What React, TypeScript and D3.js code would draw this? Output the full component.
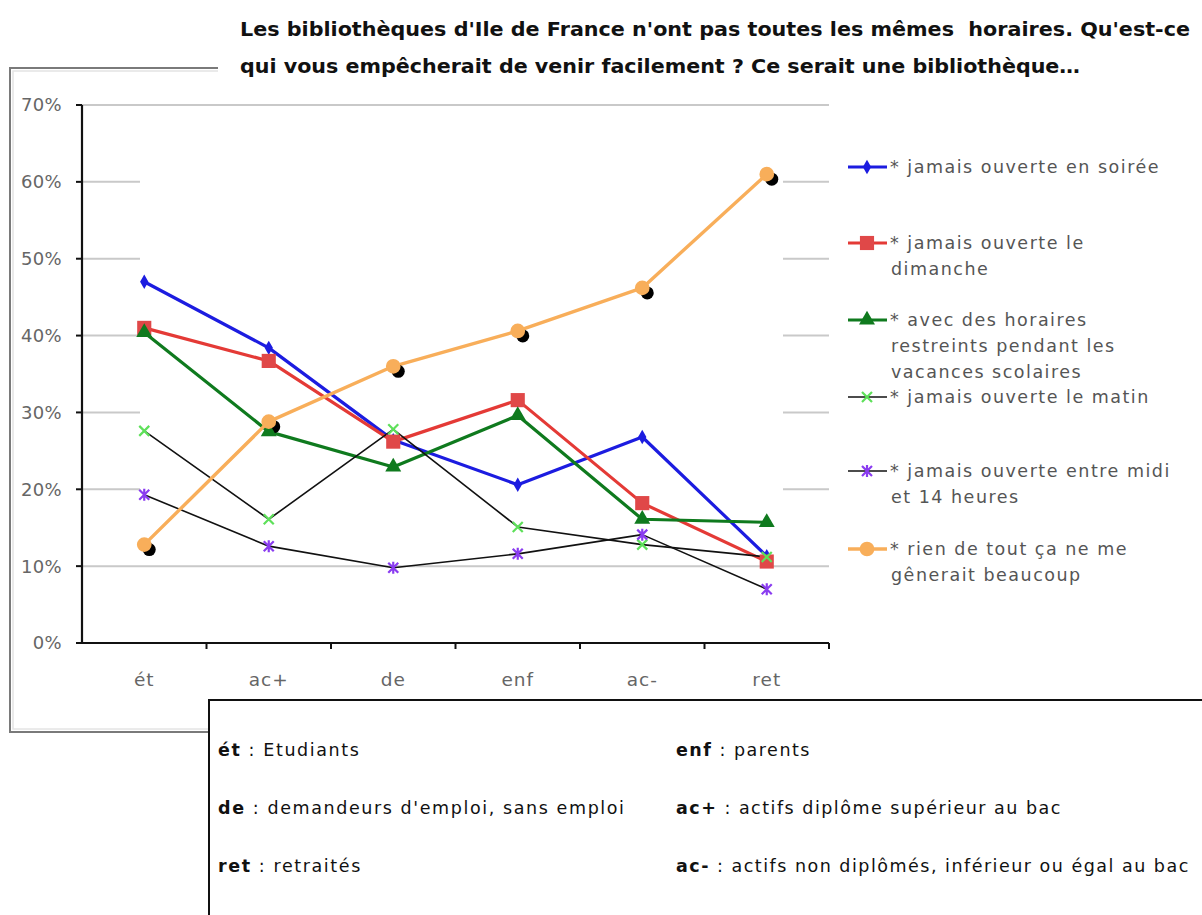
import React, { useEffect } from "react";
import * as d3 from "d3";

const categories = ["ét", "ac+", "de", "enf", "ac-", "ret"];
const soiree = [47.0, 38.4, 26.4, 20.6, 26.8, 11.3];
const dimanche = [41.0, 36.7, 26.2, 31.6, 18.2, 10.6];
const vacances = [40.4, 27.5, 22.9, 29.6, 16.1, 15.7];
const matin = [27.6, 16.1, 27.8, 15.1, 12.8, 11.2];
const midi = [19.3, 12.6, 9.8, 11.6, 14.1, 7.0];
const rien = [12.8, 28.8, 36.0, 40.6, 46.2, 61.0];
const yTicks = [0, 10, 20, 30, 40, 50, 60, 70];

const titleLines = [
  "Les bibliothèques d'Ile de France n'ont pas toutes les mêmes  horaires. Qu'est-ce",
  "qui vous empêcherait de venir facilement ? Ce serait une bibliothèque…",
];

type Series = {
  name: string[];
  values: number[];
  line: string;
  lineWidth: number;
  marker: string;
  markerColor: string;
};

const series: Series[] = [
  { name: ["* jamais ouverte en soirée"], values: soiree, line: "#1c1ce0", lineWidth: 3.2, marker: "diamond", markerColor: "#1c1ce0" },
  { name: ["* jamais ouverte le", "dimanche"], values: dimanche, line: "#e43a36", lineWidth: 3.2, marker: "square", markerColor: "#e04848" },
  { name: ["* avec des horaires", "restreints pendant les", "vacances scolaires"], values: vacances, line: "#0f7a1e", lineWidth: 3.2, marker: "triangle", markerColor: "#0f7a1e" },
  { name: ["* jamais ouverte le matin"], values: matin, line: "#111111", lineWidth: 1.6, marker: "x", markerColor: "#5ee05a" },
  { name: ["* jamais ouverte entre midi", "et 14 heures"], values: midi, line: "#111111", lineWidth: 1.6, marker: "star", markerColor: "#8a3cf0" },
  { name: ["* rien de tout ça ne me", "gênerait beaucoup"], values: rien, line: "#f8ae5a", lineWidth: 3.4, marker: "circle", markerColor: "#f8ae5a" },
];

const legendY = [167, 243, 320, 397, 471, 549];

const glossaryLeft = [
  ["ét", " : Etudiants"],
  ["de", " : demandeurs d'emploi, sans emploi"],
  ["ret", " : retraités"],
];
const glossaryRight = [
  ["enf", " : parents"],
  ["ac+", " : actifs diplôme supérieur au bac"],
  ["ac-", " : actifs non diplômés, inférieur ou égal au bac"],
];

const FONT = "'DejaVu Sans', sans-serif";

function Marker({ kind, color, x, y }: { kind: string; color: string; x: number; y: number }) {
  if (kind === "diamond") {
    return <path d={d3.symbol().type(d3.symbolDiamond).size(60)()!} transform={`translate(${x},${y})`} fill={color} />;
  }
  if (kind === "square") {
    return <path d={d3.symbol().type(d3.symbolSquare).size(200)()!} transform={`translate(${x},${y})`} fill={color} />;
  }
  if (kind === "triangle") {
    return <path d={d3.symbol().type(d3.symbolTriangle).size(110)()!} transform={`translate(${x},${y})`} fill={color} />;
  }
  if (kind === "circle") {
    return <path d={d3.symbol().type(d3.symbolCircle).size(170)()!} transform={`translate(${x},${y})`} fill={color} />;
  }
  const r = 5;
  const parts = [
    `M${-r},${-r}L${r},${r}`,
    `M${-r},${r}L${r},${-r}`,
  ];
  if (kind === "star") parts.push(`M0,${-r - 1}L0,${r + 1}`);
  return <path d={parts.join("")} transform={`translate(${x},${y})`} stroke={color} strokeWidth={2.2} fill="none" />;
}

export default function App() {
  useEffect(() => {
    document.body.style.margin = "0";
  }, []);

  const width = 1202;
  const height = 915;
  const x = d3.scaleBand<string>().domain(categories).range([82, 829]).padding(0);
  const y = d3.scaleLinear().domain([0, 70]).range([643, 105]);
  const cx = (c: string) => (x(c) as number) + x.bandwidth() / 2;
  const line = d3
    .line<number>()
    .x((_, i) => cx(categories[i]))
    .y((v) => y(v));

  const x0 = 82;
  const x1 = 829;

  return (
    <svg width={width} height={height} style={{ display: "block", background: "#fff" }} fontFamily={FONT}>
      {/* chart frame */}
      <rect x={10} y={68} width={1400} height={664} fill="#fff" stroke="#7a7a7a" strokeWidth={2} />
      <rect x={13} y={71} width={1400} height={658} fill="none" stroke="#e4e4e4" strokeWidth={1.5} />

      {/* gridlines */}
      {yTicks.filter((t) => t > 0).map((t) =>
        t === 70 || t === 10 ? (
          <line key={t} x1={x0} x2={x1} y1={y(t)} y2={y(t)} stroke="#c9c9c9" strokeWidth={2} />
        ) : (
          <g key={t}>
            <line x1={x0} x2={140} y1={y(t)} y2={y(t)} stroke="#c9c9c9" strokeWidth={2} />
            <line x1={783} x2={x1} y1={y(t)} y2={y(t)} stroke="#c9c9c9" strokeWidth={2} />
          </g>
        )
      )}

      {/* axes */}
      <line x1={x0} x2={x0} y1={y(70)} y2={y(0)} stroke="#111" strokeWidth={2.2} />
      <line x1={x0} x2={x1} y1={y(0)} y2={y(0)} stroke="#111" strokeWidth={2.2} />
      {yTicks.map((t) => (
        <g key={t}>
          <line x1={x0 - 6} x2={x0} y1={y(t)} y2={y(t)} stroke="#111" strokeWidth={2} />
          <text x={62} y={y(t)} dy="0.36em" textAnchor="end" fontSize={18} fill="#666" letterSpacing={0.3}>
            {t}%
          </text>
        </g>
      ))}
      {categories.map((c, i) => (
        <g key={c}>
          <line x1={(x(c) as number) + x.bandwidth()} x2={(x(c) as number) + x.bandwidth()} y1={y(0)} y2={y(0) + 6} stroke="#111" strokeWidth={2} />
          <text x={cx(c)} y={686} textAnchor="middle" fontSize={18.5} fill="#666" letterSpacing={1}>
            {c}
          </text>
        </g>
      ))}

      {/* series lines */}
      {series.map((s, si) => (
        <path key={si} d={line(s.values)!} fill="none" stroke={s.line} strokeWidth={s.lineWidth} strokeLinejoin="round" />
      ))}
      {/* shadow dots behind orange */}
      {rien.map((v, i) => (
        <circle key={i} cx={cx(categories[i])} cy={y(v)} r={6.5} fill="#000" transform="translate(5,5)" />
      ))}
      {series.map((s, si) =>
        s.values.map((v, i) => (
          <Marker key={`${si}-${i}`} kind={s.marker} color={s.markerColor} x={cx(categories[i])} y={y(v)} />
        ))
      )}

      {/* legend */}
      {series.map((s, si) => (
        <g key={si}>
          <line x1={848} x2={887} y1={legendY[si]} y2={legendY[si]} stroke={s.line} strokeWidth={s.lineWidth} />
          <Marker kind={s.marker} color={s.markerColor} x={867} y={legendY[si]} />
          {s.name.map((n, li) => (
            <text key={li} x={li === 0 ? 890 : 891} y={legendY[si] + 6 + li * 26} fontSize={17.5} fill="#555" letterSpacing={1.5}>
              {n}
            </text>
          ))}
        </g>
      ))}

      {/* title box */}
      <rect x={218} y={0} width={984} height={92} fill="#fff" />
      {titleLines.map((t, i) => (
        <text key={i} x={240} y={36 + i * 37} fontSize={19} fontWeight="bold" fill="#111"
          textLength={i === 0 ? 950 : 840} lengthAdjust="spacingAndGlyphs" style={{ whiteSpace: "pre" }}>
          {t}
        </text>
      ))}

      {/* glossary box */}
      <rect x={209} y={700} width={1100} height={300} fill="#fff" stroke="#111" strokeWidth={2} />
      {glossaryLeft.map((g, i) => (
        <text key={i} x={218} y={756 + i * 58} fontSize={17.5} fill="#111" letterSpacing={1.6}>
          <tspan fontWeight="bold">{g[0]}</tspan>
          <tspan>{g[1]}</tspan>
        </text>
      ))}
      {glossaryRight.map((g, i) => (
        <text key={i} x={676} y={756 + i * 58} fontSize={17.5} fill="#111" letterSpacing={1.5}>
          <tspan fontWeight="bold">{g[0]}</tspan>
          <tspan>{g[1]}</tspan>
        </text>
      ))}
    </svg>
  );
}
